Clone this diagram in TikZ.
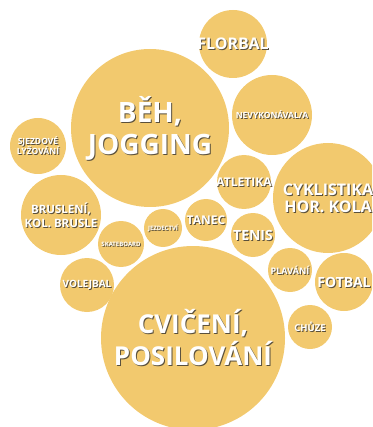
\documentclass[tikz,border=0pt]{standalone}
\usepackage{fontspec}
\setmainfont{Open Sans}
\usetikzlibrary{positioning}
\definecolor{bubblegold}{RGB}{242,201,110}
\definecolor{bubbleshade}{RGB}{90,80,60}

\begin{document}
\begin{tikzpicture}[x=1pt, y=-1pt,
    bubble/.style={circle, fill=bubblegold, inner sep=0pt},
    every node/.style={align=center}]
        \useasboundingbox (0,0) rectangle (372,427);
        \clip (0,0) rectangle (372,427);
        \foreach \nm/\x/\y/\r/\fs/\sk/\txt in {
                florbal/233/44/34/16/18/{FLORBAL},
                beh/150/128/79/28/32/{BĚH,\\JOGGING},
                nevyk/272/115/40/8.5/9/{NEVYKONÁVAL/A},
                sjezd/38/146/28/8.5/10/{SJEZDOVÉ\\LYŽOVÁNÍ},
                brusl/61/215/40/11.5/14/{BRUSLENÍ,\\KOL. BRUSLE},
                skate/121/244/23/6/7/{SKATEBOARD},
                jezd/163/228/19/6/7/{JEZDECTVÍ},
                tanec/206/220/21/12/14/{TANEC},
                atlet/244/182/27/12/13/{ATLETIKA},
                cykl/328/198/55/16/17/{CYKLISTIKA\\HOR. KOLA},
                tenis/253/235/22/14/16/{TENIS},
                plav/290/270/22/9/10/{PLAVÁNÍ},
                fotbal/344/282/29/14/16/{FOTBAL},
                chuze/310/327/22/9.5/11/{CHŮZE},
                volej/87/285/27/10/11/{VOLEJBAL},
                cvic/193/338/92/26/32/{CVIČENÍ,\\POSILOVÁNÍ}}{
            \node[bubble, minimum size=2*\r pt] (\nm) at (\x,\y) {};
            % shadow first, then the white text on top
            \node[text=bubbleshade, font=\bfseries\fontsize{\fs}{\sk}\selectfont]
                (\nm-sh) at ([shift={(1,1)}]\nm.center) {\txt};
            \node[text=white, font=\bfseries\fontsize{\fs}{\sk}\selectfont]
                (\nm-lb) at (\nm.center) {\txt};
        }
    \end{tikzpicture}
\end{document}
